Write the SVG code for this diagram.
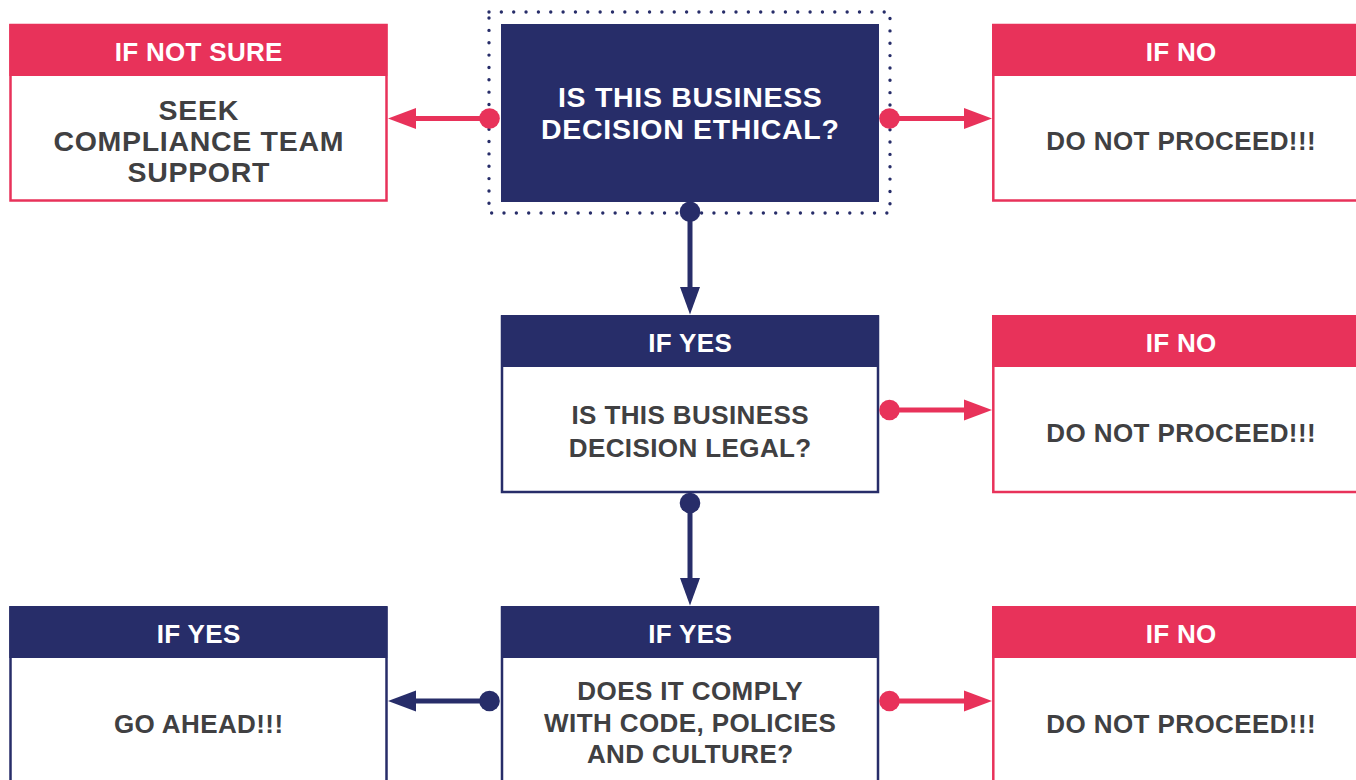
<svg xmlns="http://www.w3.org/2000/svg" width="1356" height="780" viewBox="0 0 1356 780">
<style>
.red{fill:#E8325A}
.navy{fill:#272D69}
.boxr{fill:#fff;stroke:#E8325A;stroke-width:2.5}
.boxn{fill:#fff;stroke:#272D69;stroke-width:2.5}
.hd{font-family:"Liberation Sans",Arial,sans-serif;font-weight:bold;font-size:26px;letter-spacing:0.3px;fill:#fff;text-anchor:middle}
.bd{font-family:"Liberation Sans",Arial,sans-serif;font-weight:bold;font-size:26px;letter-spacing:0.4px;fill:#404042;text-anchor:middle}
.big{font-size:28.5px;letter-spacing:0.7px}
.lr{stroke:#E8325A;stroke-width:5;fill:none}
.ln{stroke:#272D69;stroke-width:5;fill:none}
</style>
<rect width="1356" height="780" fill="#fff"/>
<g id="node-start">
<rect x="489" y="12" width="401" height="201" fill="none" stroke="#272D69" stroke-width="3.4" stroke-linecap="round" stroke-dasharray="0 12.35"/>
<rect x="501" y="24" width="378" height="178" class="navy"/>
<text class="hd big" x="690.3" y="107">IS THIS BUSINESS</text>
<text class="hd big" x="690.3" y="139">DECISION ETHICAL?</text>
</g>
<g id="node-notsure">
<rect x="10.5" y="25" width="376" height="175.5" class="boxr"/>
<rect x="9.3" y="24" width="378" height="52" class="red"/>
<text class="hd" x="198.7" y="61">IF NOT SURE</text>
<text class="bd big" x="198.8" y="120">SEEK</text>
<text class="bd big" x="198.8" y="151">COMPLIANCE TEAM</text>
<text class="bd big" x="198.8" y="182">SUPPORT</text>
</g>
<g id="node-no1">
<rect x="993.3" y="25" width="400" height="175.5" class="boxr"/>
<rect x="992" y="24" width="400" height="52" class="red"/>
<text class="hd" x="1181.2" y="61">IF NO</text>
<text class="bd" x="1181.2" y="150">DO NOT PROCEED!!!</text>
</g>
<g id="node-legal">
<rect x="502" y="316.5" width="376" height="175.5" class="boxn"/>
<rect x="501" y="315" width="378" height="52" class="navy"/>
<text class="hd" x="690.2" y="352">IF YES</text>
<text class="bd" x="690.2" y="424">IS THIS BUSINESS</text>
<text class="bd" x="690.2" y="457">DECISION LEGAL?</text>
</g>
<g id="node-no2">
<rect x="993.3" y="316.5" width="400" height="175.5" class="boxr"/>
<rect x="992" y="315" width="400" height="52" class="red"/>
<text class="hd" x="1181.2" y="352">IF NO</text>
<text class="bd" x="1181.2" y="442">DO NOT PROCEED!!!</text>
</g>
<g id="node-comply">
<rect x="502" y="607.5" width="376" height="200" class="boxn"/>
<rect x="501" y="606" width="378" height="52" class="navy"/>
<text class="hd" x="690.2" y="643">IF YES</text>
<text class="bd" x="690.2" y="700">DOES IT COMPLY</text>
<text class="bd" x="690.2" y="732">WITH CODE, POLICIES</text>
<text class="bd" x="690.2" y="763">AND CULTURE?</text>
</g>
<g id="node-goahead">
<rect x="10.5" y="607.5" width="376" height="200" class="boxn"/>
<rect x="9.3" y="606" width="378" height="52" class="navy"/>
<text class="hd" x="198.7" y="643">IF YES</text>
<text class="bd" x="198.7" y="733">GO AHEAD!!!</text>
</g>
<g id="node-no3">
<rect x="993.3" y="607.5" width="400" height="200" class="boxr"/>
<rect x="992" y="606" width="400" height="52" class="red"/>
<text class="hd" x="1181.2" y="643">IF NO</text>
<text class="bd" x="1181.2" y="733">DO NOT PROCEED!!!</text>
</g>
<g id="connectors">
<line class="lr" x1="489" y1="118.5" x2="414" y2="118.5"/>
<circle class="red" cx="489.5" cy="118.5" r="10.3"/>
<polygon class="red" points="388,118.5 416,108 416,129"/>
<line class="lr" x1="889" y1="118.5" x2="966" y2="118.5"/>
<circle class="red" cx="889.5" cy="118.5" r="10.3"/>
<polygon class="red" points="992,118.5 964,108 964,129"/>
<line class="ln" x1="690" y1="212" x2="690" y2="289"/>
<circle class="navy" cx="690" cy="211.7" r="10.3"/>
<polygon class="navy" points="690,314.5 680,287 700,287"/>
<line class="lr" x1="889" y1="410" x2="966" y2="410"/>
<circle class="red" cx="889.5" cy="410" r="10.3"/>
<polygon class="red" points="992,410 964,399.5 964,420.5"/>
<line class="ln" x1="690" y1="503" x2="690" y2="580"/>
<circle class="navy" cx="690" cy="503" r="10.3"/>
<polygon class="navy" points="690,605.5 680,578 700,578"/>
<line class="ln" x1="489" y1="701" x2="414" y2="701"/>
<circle class="navy" cx="489.5" cy="701" r="10.3"/>
<polygon class="navy" points="388,701 416,690.5 416,711.5"/>
<line class="lr" x1="889" y1="701" x2="966" y2="701"/>
<circle class="red" cx="889.5" cy="701" r="10.3"/>
<polygon class="red" points="992,701 964,690.5 964,711.5"/>
</g>
</svg>
